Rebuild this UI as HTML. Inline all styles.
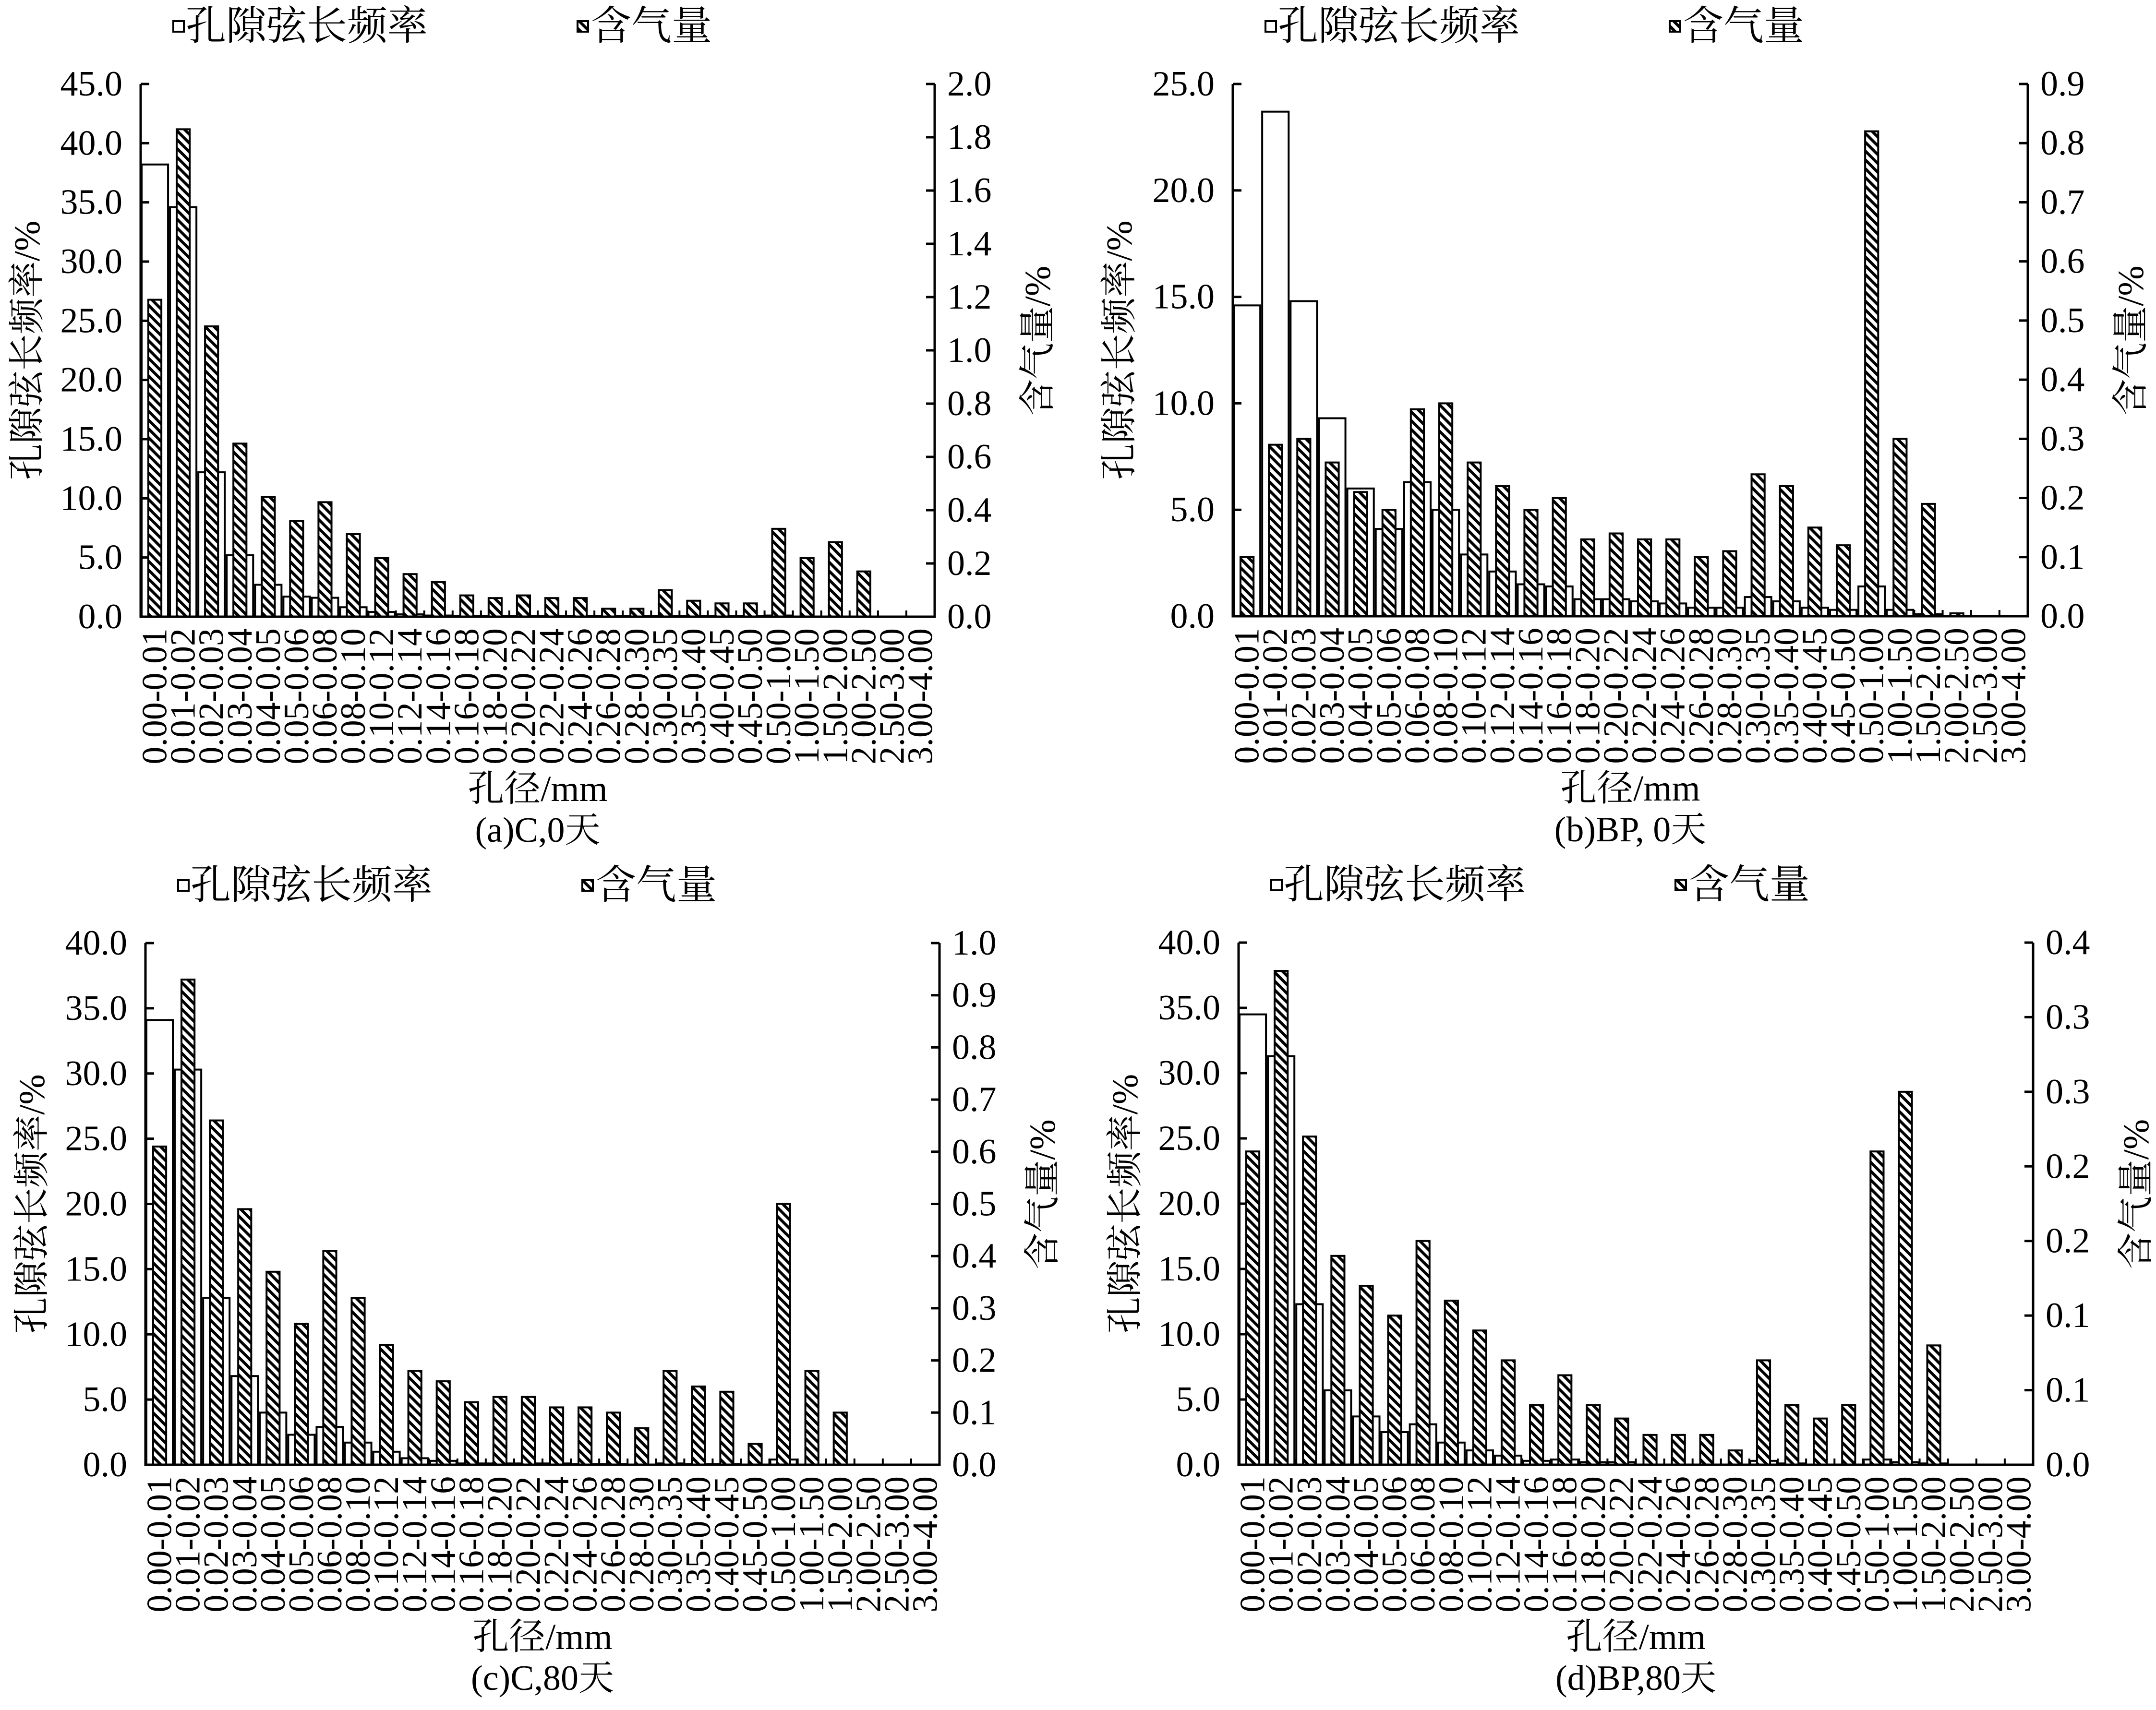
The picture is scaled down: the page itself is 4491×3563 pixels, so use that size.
<!DOCTYPE html>
<html><head><meta charset="utf-8">
<style>
html,body{margin:0;padding:0;background:#fff;}
svg{display:block;font-family:"Liberation Serif","Noto Serif CJK SC",serif;}
</style></head>
<body>
<svg id="chart" width="4491" height="3563" viewBox="0 0 4491 3563" xmlns="http://www.w3.org/2000/svg">
<defs>
<pattern id="hatch" patternUnits="userSpaceOnUse" width="13" height="13" patternTransform="rotate(-45)">
<rect x="0" y="0" width="13" height="13" fill="#fff"/>
<rect x="0" y="0" width="6" height="13" fill="#000"/>
</pattern>
</defs>
</svg>
<script>
// ---- data ----
const categories = ["0.00-0.01","0.01-0.02","0.02-0.03","0.03-0.04","0.04-0.05","0.05-0.06","0.06-0.08","0.08-0.10","0.10-0.12","0.12-0.14","0.14-0.16","0.16-0.18","0.18-0.20","0.20-0.22","0.22-0.24","0.24-0.26","0.26-0.28","0.28-0.30","0.30-0.35","0.35-0.40","0.40-0.45","0.45-0.50","0.50-1.00","1.00-1.50","1.50-2.00","2.00-2.50","2.50-3.00","3.00-4.00"];

const freqA = [38.2,34.6,12.2,5.2,2.7,1.7,1.6,0.8,0.4,0.2,0.1,0.05,0.05,0.05,0.05,0.05,0.05,0.05,0.05,0.05,0.05,0.05,0.1,0,0,0,0,0];
const airA  = [1.19,1.83,1.09,0.65,0.45,0.36,0.43,0.31,0.22,0.16,0.13,0.08,0.07,0.08,0.07,0.07,0.03,0.03,0.10,0.06,0.05,0.05,0.33,0.22,0.28,0.17,0,0];

const freqB = [14.6,23.7,14.8,9.3,6.0,4.1,6.3,5.0,2.9,2.1,1.5,1.4,0.8,0.8,0.7,0.6,0.4,0.4,0.9,0.7,0.4,0.3,1.4,0.3,0.1,0,0,0];
const airB  = [0.10,0.29,0.30,0.26,0.21,0.18,0.35,0.36,0.26,0.22,0.18,0.20,0.13,0.14,0.13,0.13,0.10,0.11,0.24,0.22,0.15,0.12,0.82,0.30,0.19,0.005,0,0];

const freqC = [34.1,30.3,12.8,6.8,4.0,2.3,2.9,1.7,1.0,0.5,0.3,0.1,0.1,0.1,0.1,0.05,0.05,0,0.1,0.05,0.05,0,0.4,0,0,0,0,0];
const airC  = [0.61,0.93,0.66,0.49,0.37,0.27,0.41,0.32,0.23,0.18,0.16,0.12,0.13,0.13,0.11,0.11,0.10,0.07,0.18,0.15,0.14,0.04,0.50,0.18,0.10,0,0,0];

const freqD = [34.5,31.3,12.3,5.7,3.7,2.5,3.1,1.7,1.1,0.7,0.3,0.4,0.2,0.2,0,0,0,0,0.3,0.1,0,0,0.4,0.2,0.1,0,0,0];
const airD  = [0.210,0.331,0.220,0.140,0.120,0.100,0.150,0.110,0.090,0.070,0.040,0.060,0.040,0.031,0.020,0.020,0.020,0.0096,0.070,0.040,0.031,0.040,0.210,0.250,0.080,0,0,0];

const leftTicksA = [0,5,10,15,20,25,30,35,40,45];
const leftTicksB = [0,5,10,15,20,25];
const leftTicksCD = [0,5,10,15,20,25,30,35,40];
const rightTicksA = [0,0.2,0.4,0.6,0.8,1.0,1.2,1.4,1.6,1.8,2.0];
const rightLabelsA = ["0.0","0.2","0.4","0.6","0.8","1.0","1.2","1.4","1.6","1.8","2.0"];
const rightTicksB = [0,0.1,0.2,0.3,0.4,0.5,0.6,0.7,0.8,0.9];
const rightLabelsB = ["0.0","0.1","0.2","0.3","0.4","0.5","0.6","0.7","0.8","0.9"];
const rightTicksC = [0,0.1,0.2,0.3,0.4,0.5,0.6,0.7,0.8,0.9,1.0];
const rightLabelsC = ["0.0","0.1","0.2","0.3","0.4","0.5","0.6","0.7","0.8","0.9","1.0"];
const rightTicksD = [0,0.05,0.10,0.15,0.20,0.25,0.30,0.35];
const rightLabelsD = ["0.0","0.1","0.1","0.2","0.2","0.3","0.3","0.4"];

const captions = ["(a)C,0天","(b)BP, 0天","(c)C,80天","(d)BP,80天"];

const panels = [
 {id:"a", x0:293, x1:1947, y0:175, y1:1285, freq:freqA, air:airA, lt:leftTicksA, rt:rightTicksA, rl:rightLabelsA, cap:captions[0]},
 {id:"b", x0:2568, x1:4224, y0:175, y1:1284, freq:freqB, air:airB, lt:leftTicksB, rt:rightTicksB, rl:rightLabelsB, cap:captions[1]},
 {id:"c", x0:303, x1:1957, y0:1965, y1:3052, freq:freqC, air:airC, lt:leftTicksCD, rt:rightTicksC, rl:rightLabelsC, cap:captions[2]},
 {id:"d", x0:2580, x1:4235, y0:1964, y1:3052, freq:freqD, air:airD, lt:leftTicksCD, rt:rightTicksD, rl:rightLabelsD, cap:captions[3]}
];

const NS = "http://www.w3.org/2000/svg";
const svg = document.getElementById("chart");
function mk(tag, attrs, parent){
  const e = document.createElementNS(NS, tag);
  for (const k in attrs) e.setAttribute(k, attrs[k]);
  (parent||svg).appendChild(e);
  return e;
}

panels.forEach(p => {
  const g = mk("g", {});
  
  
  const n = categories.length;
  const cw = (p.x1 - p.x0) / n;
  const lMax = p.lt[p.lt.length-1];
  const rMax = p.rt[p.rt.length-1];
  const yL = v => p.y1 - v / lMax * (p.y1 - p.y0);
  const yR = v => p.y1 - v / rMax * (p.y1 - p.y0);
  const xC = i => p.x0 + cw * (i + 0.5);

  p.freq.forEach((v, i) => {
    if (v <= 0) return;
    const r = mk("rect", {x: p.x0 + cw*i + 2, y: yL(v), width: cw - 4, height: p.y1 - yL(v), fill:"#fff", stroke:"#000", "stroke-width":4}, g);
    
    
  });
  const bw = cw * 0.46;
  p.air.forEach((v, i) => {
    if (v <= 0) return;
    const r = mk("rect", {x: xC(i) - bw/2, y: yR(v), width: bw, height: p.y1 - yR(v), fill:"url(#hatch)", stroke:"#000", "stroke-width":4}, g);
    
    
  });

  const ax = mk("path", {d:`M${p.x0},${p.y0} V${p.y1} H${p.x1} V${p.y0}`, fill:"none", stroke:"#000", "stroke-width":5}, g);
  
  

  p.lt.forEach(v => {
    const y = yL(v);
    const t = mk("line", {x1:p.x0, x2:p.x0+18, y1:y, y2:y, stroke:"#000", "stroke-width":5}, g);
    
    
    const lb = mk("text", {x:p.x0-38, y:y, "text-anchor":"end", "dominant-baseline":"central", "font-size":74}, g);
    lb.textContent = v.toFixed(1);
    
    
  });
  p.rt.forEach((v, k) => {
    const y = yR(v);
    const t = mk("line", {x1:p.x1-18, x2:p.x1, y1:y, y2:y, stroke:"#000", "stroke-width":5}, g);
    
    
    const lb = mk("text", {x:p.x1+26, y:y, "text-anchor":"start", "dominant-baseline":"central", "font-size":74}, g);
    lb.textContent = p.rl[k];
    
    
  });
  for (let i = 1; i < n; i++) {
    const x = p.x0 + cw*i;
    const t = mk("line", {x1:x, x2:x, y1:p.y1, y2:p.y1-13, stroke:"#000", "stroke-width":4}, g);
    
    
  }
  categories.forEach((c, i) => {
    const x = xC(i), y = p.y1 + 24;
    const lb = mk("text", {x:0, y:0, transform:`translate(${x},${y}) rotate(-90)`, "text-anchor":"end", "dominant-baseline":"central", "font-size":74}, g);
    lb.textContent = c;
    
    
  });

  const cy = (p.y0 + p.y1)/2;
  const lt = mk("text", {transform:`translate(${p.x0-236},${cy}) rotate(-90)`, "text-anchor":"middle", "dominant-baseline":"central", "font-size":76}, g);
  lt.textContent = "孔隙弦长频率/%";
  
  
  const rtt = mk("text", {transform:`translate(${p.x1+215},${cy-20}) rotate(-90)`, "text-anchor":"middle", "dominant-baseline":"central", "font-size":76}, g);
  rtt.textContent = "含气量/%";
  
  
  const xt = mk("text", {x:(p.x0+p.x1)/2, y:p.y1+359, "text-anchor":"middle", "dominant-baseline":"central", "font-size":76}, g);
  xt.textContent = "孔径/mm";
  
  
  const cap = mk("text", {x:(p.x0+p.x1)/2, y:p.y1+445, "text-anchor":"middle", "dominant-baseline":"central", "font-size":74}, g);
  cap.textContent = p.cap;
  
  

  const ly = p.y0 - 120;
  const lg = mk("g", {}, g);
  
  
  const m1 = mk("rect", {x:p.x0+68, y:ly-11, width:22, height:22, fill:"#fff", stroke:"#000", "stroke-width":4}, lg);
  
  
  const t1 = mk("text", {x:p.x0+94, y:ly, "dominant-baseline":"central", "font-size":84}, lg);
  t1.textContent = "孔隙弦长频率";
  
  
  const m2 = mk("rect", {x:p.x0+910, y:ly-11, width:22, height:22, fill:"url(#hatch)", stroke:"#000", "stroke-width":4}, lg);
  
  
  const t2 = mk("text", {x:p.x0+938, y:ly, "dominant-baseline":"central", "font-size":84}, lg);
  t2.textContent = "含气量";
  
  
});
</script>
</body></html>
